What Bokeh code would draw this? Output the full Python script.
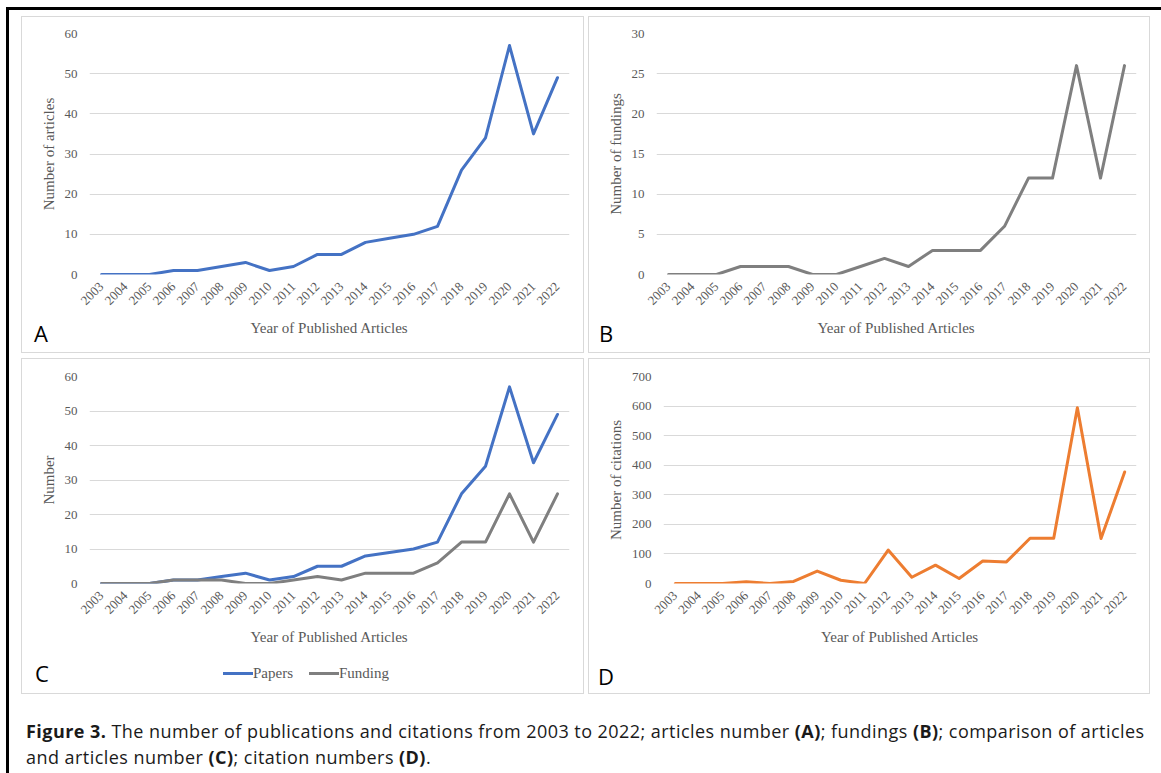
from math import pi

from bokeh.embed import file_html
from bokeh.layouts import column, row
from bokeh.models import Div, FactorRange, FixedTicker, Range1d
from bokeh.plotting import figure
from bokeh.resources import INLINE

# ---- data -------------------------------------------------------------
years = ["2003", "2004", "2005", "2006", "2007", "2008", "2009", "2010", "2011", "2012",
         "2013", "2014", "2015", "2016", "2017", "2018", "2019", "2020", "2021", "2022"]
papers = [0, 0, 0, 1, 1, 2, 3, 1, 2, 5, 5, 8, 9, 10, 12, 26, 34, 57, 35, 49]
fundings = [0, 0, 0, 1, 1, 1, 0, 0, 1, 2, 1, 3, 3, 3, 6, 12, 12, 26, 12, 26]
citations = [0, 0, 0, 6, 0, 7, 42, 11, 0, 113, 21, 62, 17, 76, 73, 153, 153, 594, 152, 377]

ticks_articles = [0, 10, 20, 30, 40, 50, 60]
ticks_fundings = [0, 5, 10, 15, 20, 25, 30]
ticks_citations = [0, 100, 200, 300, 400, 500, 600, 700]

series_names = ["Papers", "Funding"]

BLUE = "#4472c4"
GRAY = "#7f7f7f"
ORANGE = "#ed7d31"
TXT = "#595959"
GRID = "#d9d9d9"
SERIF = "Liberation Serif"


def panel(width, height, ymax, yticks, ytitle, borders):
    left, right, top, bottom = borders
    p = figure(x_range=FactorRange(*years), y_range=Range1d(0, ymax),
               width=width, height=height, output_backend="svg", toolbar_location=None,
               min_border_left=left, min_border_right=right,
               min_border_top=top, min_border_bottom=bottom,
               styles={"border": "1px solid " + GRID})
    p.outline_line_color = None
    p.xgrid.grid_line_color = None
    p.ygrid.grid_line_color = GRID
    p.ygrid.grid_line_width = 1
    p.yaxis.ticker = FixedTicker(ticks=yticks)
    for ax in (p.xaxis[0], p.yaxis[0]):
        ax.axis_line_color = None
        ax.major_tick_line_color = None
        ax.minor_tick_line_color = None
        ax.major_label_text_font = SERIF
        ax.major_label_text_font_size = "13px"
        ax.major_label_text_color = TXT
        ax.axis_label_text_font = SERIF
        ax.axis_label_text_font_size = "15px"
        ax.axis_label_text_font_style = "normal"
        ax.axis_label_text_color = TXT
    p.xaxis.major_label_orientation = pi / 4
    p.xaxis.major_label_standoff = 4
    p.xaxis.axis_label = "Year of Published Articles"
    p.xaxis.axis_label_standoff = 8
    p.yaxis.axis_label = ytitle
    p.yaxis.major_label_standoff = 6
    p.yaxis.axis_label_standoff = 5
    return p


def trend(p, values, color):
    return p.line(years, values, line_color=color, line_width=3,
                  line_join="round", line_cap="round")


# A: articles per year
pa = panel(563, 337, 60, ticks_articles, "Number of articles", (67, 16, 16, 80))
trend(pa, papers, BLUE)

# B: fundings per year
pb = panel(562, 337, 30, ticks_fundings, "Number of fundings", (67, 15, 16, 80))
trend(pb, fundings, GRAY)

# C: articles vs fundings
pc = panel(563, 336, 60, ticks_articles, "Number", (67, 16, 17, 112))
trend(pc, papers, BLUE)
trend(pc, fundings, GRAY)

# D: citations per year
pd_ = panel(562, 336, 700, ticks_citations, "Number of citations", (74, 15, 17, 79))
trend(pd_, citations, ORANGE)

grid = column(row(pa, pb, spacing=4), row(pc, pd_, spacing=4), spacing=5)

caption = Div(
    text=("<b>Figure 3.</b> The number of publications and citations from 2003 to 2022; "
          "articles number <b>(A)</b>; fundings <b>(B)</b>; comparison of articles<br>"
          "and articles number <b>(C)</b>; citation numbers <b>(D)</b>."),
    width=1135,
    styles={"font-family": "'Open Sans'", "font-size": "18px", "line-height": "26px",
            "letter-spacing": "0.45px", "color": "#1a1a1a", "white-space": "nowrap",
            "margin-top": "24px"})


def overlay(html, left, top, width, height, extra):
    styles = {"position": "absolute", "left": f"{left}px", "top": f"{top}px"}
    styles.update(extra)
    return Div(text=html, width=width, height=height, styles=styles)


letter_style = {"font-family": "'Open Sans'", "font-size": "22px", "line-height": "22px",
                "text-align": "center", "color": "black"}
letters = [overlay("A", 12, 307, 30, 22, letter_style),
           overlay("B", 577, 307, 30, 22, letter_style),
           overlay("C", 13, 647, 30, 22, letter_style),
           overlay("D", 577, 650, 30, 22, letter_style)]


# legend of panel C: short line swatch followed by the series name
def key(color, name):
    swatch = (f'<span style="display:inline-block;width:30px;height:0;'
              f'border-top:3px solid {color};vertical-align:middle;'
              f'position:relative;top:-1px"></span>')
    return swatch + name


legend_html = (key(BLUE, series_names[0])
               + '<span style="display:inline-block;width:16px"></span>'
               + key(GRAY, series_names[1]))
legend_div = overlay(legend_html, 209, 648, 200, 20,
                     {"font-family": "'Liberation Serif'", "font-size": "15px",
                      "line-height": "20px", "color": TXT, "white-space": "nowrap"})

page = column(grid, caption, *letters, legend_div,
              styles={"position": "relative",
                      "border-top": "3px solid black", "border-left": "3px solid black",
                      "padding": "6px 11px 4px 12px", "margin": "7px 0 0 6px"})

with open("out.html", "w") as f:
    f.write(file_html(page, INLINE))
